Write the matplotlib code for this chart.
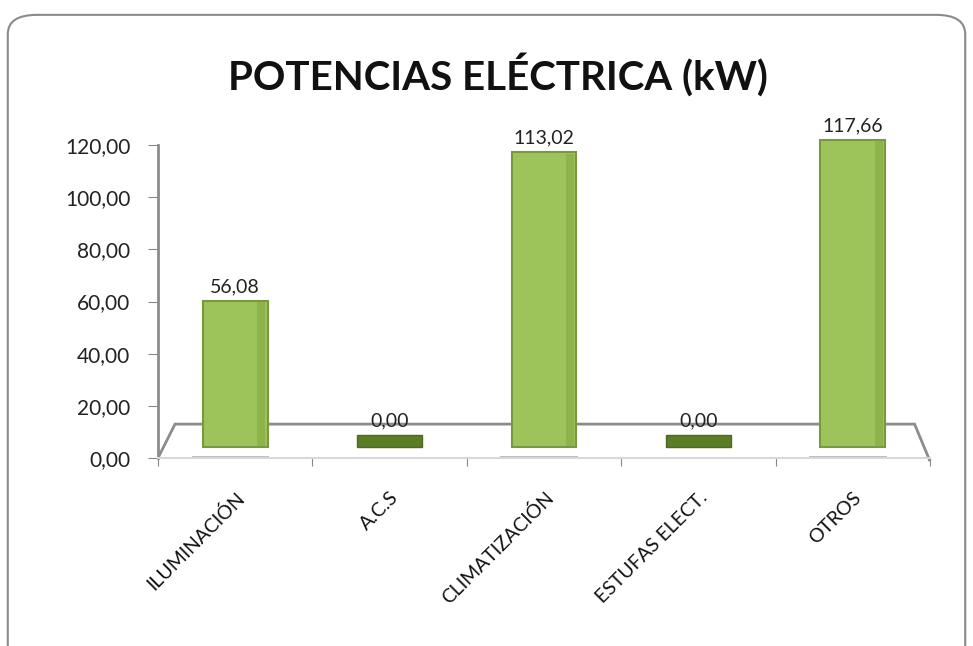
import matplotlib.pyplot as plt
from matplotlib.patches import FancyBboxPatch, Polygon

plt.rcParams['font.family'] = ['Lato', 'DejaVu Sans']

categorias = ['ILUMINACIÓN', 'A.C.S', 'CLIMATIZACIÓN', 'ESTUFAS ELECT.', 'OTROS']
potencias = [56.08, 0.00, 113.02, 0.00, 117.66]
etiquetas = ['56,08', '0,00', '113,02', '0,00', '117,66']
y_ticks = [0, 20, 40, 60, 80, 100, 120]
y_labels = ['0,00', '20,00', '40,00', '60,00', '80,00', '100,00', '120,00']

fig = plt.figure(figsize=(9.73, 6.46), dpi=100)
ax = fig.add_axes([0.1624, 0.291, 0.7934, 0.4845])

# marco redondeado del gráfico
marco = FancyBboxPatch((0.008, -0.05), 0.984, 1.027, boxstyle='round,pad=0,rounding_size=0.03',
                       transform=fig.transFigure, facecolor='none', edgecolor='#8a8a8a', lw=1.5)
fig.patches.append(marco)

x = list(range(len(categorias)))
base = 4.2       # suelo en perspectiva
ancho = 0.42

# suelo 3D
suelo = Polygon([(-0.5, 0), (-0.39, 13), (4.40, 13), (4.5, -1.2)], closed=False,
                fill=False, edgecolor='#8c8c8c', lw=2, zorder=1, clip_on=False)
ax.add_patch(suelo)

for xi, v, lab in zip(x, potencias, etiquetas):
    if v > 0:
        ax.bar(xi - 0.03, 1.2, width=ancho * 1.2, bottom=-0.4, color='#bdbdbd', zorder=1, clip_on=False)
        ax.bar(xi, v, width=ancho, bottom=base, color='#9dc35b', edgecolor='#79993c',
               lw=1.5, zorder=3, clip_on=False)
        ax.bar(xi + ancho * 0.4, v - 1, width=ancho * 0.12, bottom=base + 0.5,
               color='#8db34b', zorder=4, clip_on=False)
        top = base + v
    else:
        ax.bar(xi, 4.6, width=ancho, bottom=base, color='#5b7d26', edgecolor='#4d6b1f',
               lw=1, zorder=3, clip_on=False)
        top = base + 4.6
    ax.annotate(lab, (xi, top), xytext=(0, 4), textcoords='offset points',
                ha='center', va='bottom', fontsize=14, color='#222222', zorder=5,
                annotation_clip=False)

ax.set_xlim(-0.5, 4.5)
ax.set_ylim(0, 120)
ax.set_yticks(y_ticks)
ax.set_yticklabels(y_labels, fontsize=15, color='#222222')
ax.set_xticks([i - 0.5 for i in range(len(categorias) + 1)])
ax.set_xticklabels([])
ax.set_xticks(x, minor=True)
ax.set_xticklabels(categorias, minor=True, rotation=45, ha='right', va='top',
                   rotation_mode='anchor', fontsize=14, color='#111111')
ax.tick_params(axis='x', which='minor', length=0, pad=22)
ax.tick_params(axis='x', which='major', length=6, color='#888888', direction='out')
ax.tick_params(axis='y', length=7, color='#888888', pad=13)

for s in ['top', 'right']:
    ax.spines[s].set_visible(False)
ax.spines['left'].set_color('#8c8c8c')
ax.spines['left'].set_linewidth(2)
ax.spines['bottom'].set_color('#d8d8d8')
ax.spines['bottom'].set_linewidth(1.5)

fig.text(0.512, 0.885, 'POTENCIAS ELÉCTRICA (kW)', ha='center', va='center',
         fontsize=29, fontweight='bold', color='#111111')

fig.savefig('out.png', dpi=100)
